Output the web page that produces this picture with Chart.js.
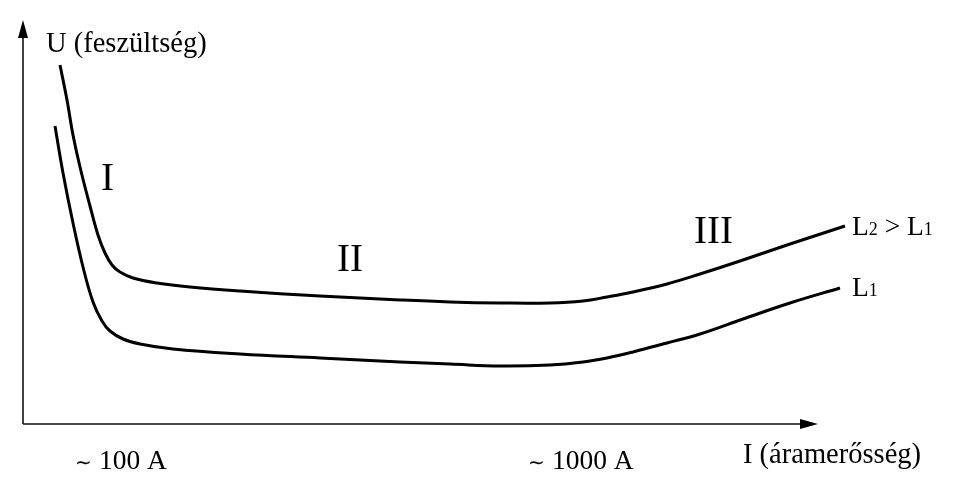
<!DOCTYPE html>
<html>
<head>
<meta charset="utf-8">
<script src="https://cdn.jsdelivr.net/npm/chart.js@4.4.0/dist/chart.umd.min.js"></script>
<style>
  html, body { margin: 0; padding: 0; background: #fff; }
  #wrap { width: 970px; height: 501px; position: relative; }
</style>
</head>
<body>
<div id="wrap"><canvas id="uichart"></canvas></div>
<script>
// values (arbitrary units, x = current, y = voltage)
const currentL2 = [60, 67, 73, 80, 90, 98, 105, 112, 120, 133, 157, 190, 240, 320, 400, 450, 500, 550, 583, 607, 633, 667, 700, 743, 790, 845];
const voltageL2 = [436, 401, 366, 334, 295, 266, 248, 236, 229, 223, 218, 214, 210, 205, 201, 199, 198, 198, 200, 204, 209, 217, 227, 241, 257, 275];
const currentL1 = [55, 63, 73, 83, 93, 102, 110, 123, 140, 173, 240, 320, 400, 450, 500, 550, 583, 607, 633, 667, 700, 743, 790, 840];
const voltageL1 = [375, 328, 278, 234, 199, 180, 170, 162, 157, 152, 147, 143, 139, 137, 135, 136, 139, 143, 149, 158, 167, 182, 198, 213];

const axisOrigin = { x: 23, y: 77 };
const axisEnd = { x: 818, y: 481 };

const font = 'Liberation Serif, Times New Roman, serif';

function toPoints(xs, ys) {
    return xs.map((x, i) => ({ x: x, y: ys[i] }));
}

// draw a run of text pieces [text, size] on a common baseline
function drawRun(ctx, pieces, x, y) {
    let cx = x;
    pieces.forEach(p => {
        ctx.font = p[1] + 'px ' + font;
        ctx.fillText(p[0], cx, y);
        cx += ctx.measureText(p[0]).width;
    });
}

const axesPlugin = {
    id: 'axesPlugin',
    afterDraw(chart) {
        const ctx = chart.ctx;
        const sx = chart.scales.x, sy = chart.scales.y;
        const ox = sx.getPixelForValue(axisOrigin.x);
        const oy = sy.getPixelForValue(axisOrigin.y);
        const ex = sx.getPixelForValue(axisEnd.x);
        const ey = sy.getPixelForValue(axisEnd.y);

        ctx.save();
        ctx.strokeStyle = '#111';
        ctx.fillStyle = '#000';
        ctx.lineWidth = 1.6;
        ctx.beginPath();
        ctx.moveTo(ox, oy);
        ctx.lineTo(ox, ey + 12);
        ctx.moveTo(ox, oy);
        ctx.lineTo(ex - 12, oy);
        ctx.stroke();

        // arrow heads
        ctx.beginPath();
        ctx.moveTo(ox, ey);
        ctx.lineTo(ox - 5, ey + 18);
        ctx.lineTo(ox + 5, ey + 18);
        ctx.closePath();
        ctx.fill();
        ctx.beginPath();
        ctx.moveTo(ex, oy);
        ctx.lineTo(ex - 18, oy - 5);
        ctx.lineTo(ex - 18, oy + 5);
        ctx.closePath();
        ctx.fill();

        // texts
        ctx.textBaseline = 'alphabetic';
        ctx.textAlign = 'left';
        const px = v => sx.getPixelForValue(v);
        const py = v => sy.getPixelForValue(v);

        drawRun(ctx, [['U (feszültség)', 28.5]], px(46), py(449));
        drawRun(ctx, [['I (áramerősség)', 28.5]], px(743), py(38));
        drawRun(ctx, [['\u223C', 20], [' 100 A', 27.5]], px(75), py(32));
        drawRun(ctx, [['\u223C', 20], [' 1000 A', 27.5]], px(528), py(32));

        drawRun(ctx, [['I', 39]], px(101), py(311));
        drawRun(ctx, [['II', 39]], px(337), py(230));
        drawRun(ctx, [['III', 39]], px(694), py(258));

        drawRun(ctx, [['L', 27.5], ['2', 18], [' > L', 27.5], ['1', 18]], px(852), py(266));
        drawRun(ctx, [['L', 27.5], ['1', 18]], px(852), py(205));
        ctx.restore();
    }
};

const lineStyle = {
    borderColor: '#000',
    borderWidth: 3,
    pointRadius: 0,
    fill: false,
    tension: 0.4
};

new Chart(document.getElementById('uichart').getContext('2d'), {
    type: 'line',
    data: {
        datasets: [
            Object.assign({ label: 'L2 > L1', data: toPoints(currentL2, voltageL2) }, lineStyle),
            Object.assign({ label: 'L1', data: toPoints(currentL1, voltageL1) }, lineStyle)
        ]
    },
    options: {
        responsive: true,
        maintainAspectRatio: false,
        animation: false,
        layout: { padding: 0 },
        plugins: {
            legend: { display: false },
            tooltip: { enabled: false }
        },
        scales: {
            x: { type: 'linear', min: 0, max: 970, display: false },
            y: { type: 'linear', min: 0, max: 501, display: false }
        }
    },
    plugins: [axesPlugin]
});
</script>
</body>
</html>
